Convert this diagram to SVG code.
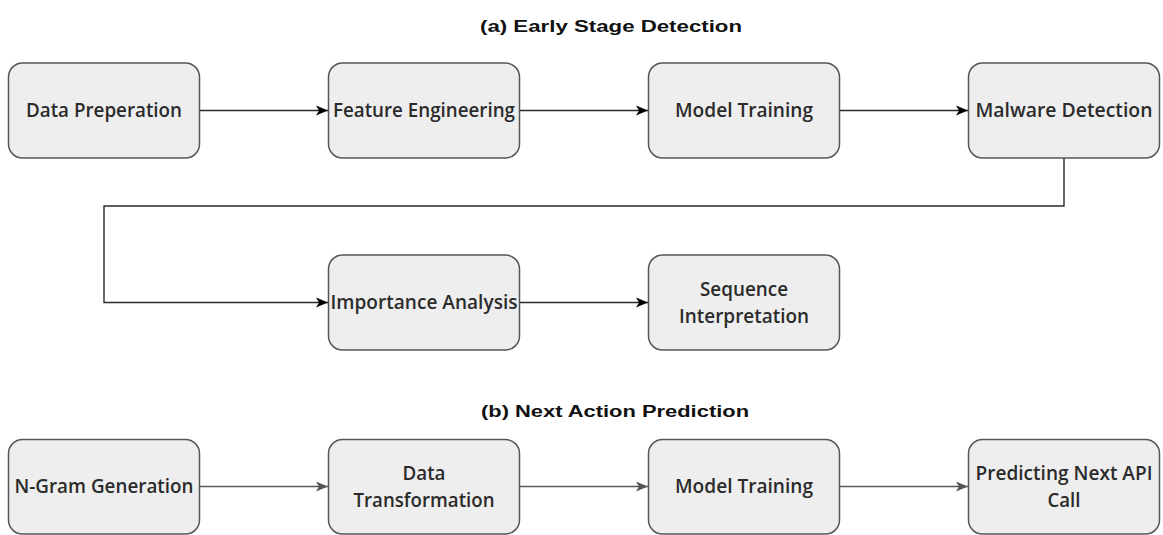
<svg xmlns="http://www.w3.org/2000/svg" width="1163" height="535" viewBox="0 0 1163 535">
  <style>
    .box { fill: #eeeeee; stroke: #555555; stroke-width: 1.5; }
    .lbl { font-family: "Open Sans", "Noto Sans", sans-serif; font-weight: 600; font-size: 19.5px; fill: #2b2b2b; text-anchor: middle; }
    .ttl { font-family: "Liberation Sans", Arial, sans-serif; font-weight: 700; font-size: 16px; fill: #111111; text-anchor: middle; }
    .edge { fill: none; stroke: #2a2a2a; stroke-width: 1.4; }
    .edge2 { fill: none; stroke: #5a5a5a; stroke-width: 1.4; }
  </style>
  <defs>
    <marker id="head" markerUnits="userSpaceOnUse" markerWidth="14" markerHeight="12" viewBox="0 0 14 12" refX="13" refY="6" orient="auto">
      <path d="M1,1 L13,6 L1,11 L4,6 Z" fill="#000000"/>
    </marker>
    <marker id="head2" markerUnits="userSpaceOnUse" markerWidth="14" markerHeight="12" viewBox="0 0 14 12" refX="13" refY="6" orient="auto">
      <path d="M1,1 L13,6 L1,11 L4,6 Z" fill="#555555"/>
    </marker>
  </defs>

  <rect width="1163" height="535" fill="#ffffff"/>

  <!-- section titles -->
  <text class="ttl" x="611" y="32" textLength="262" lengthAdjust="spacingAndGlyphs">(a) Early  Stage Detection</text>
  <text class="ttl" x="615" y="416.5" textLength="268" lengthAdjust="spacingAndGlyphs">(b) Next Action Prediction</text>

  <!-- connectors -->
  <g id="connectors">
    <path class="edge" d="M200,110.5 H328" marker-end="url(#head)"/>
    <path class="edge" d="M520,110.5 H648" marker-end="url(#head)"/>
    <path class="edge" d="M840,110.5 H968" marker-end="url(#head)"/>
    <path class="edge" d="M1064,158 V206 H104 V302.5 H328" marker-end="url(#head)"/>
    <path class="edge" d="M520,302.5 H648" marker-end="url(#head)"/>
    <path class="edge2" d="M200,486.5 H328" marker-end="url(#head2)"/>
    <path class="edge2" d="M520,486.5 H648" marker-end="url(#head2)"/>
    <path class="edge2" d="M840,486.5 H968" marker-end="url(#head2)"/>
  </g>

  <!-- (a) early stage detection -->
  <g id="data-preparation">
    <rect class="box" x="8.5" y="63" width="191" height="95" rx="14"/>
    <text class="lbl" x="104" y="117" textLength="156" lengthAdjust="spacingAndGlyphs">Data Preperation</text>
  </g>
  <g id="feature-engineering">
    <rect class="box" x="328.5" y="63" width="191" height="95" rx="14"/>
    <text class="lbl" x="424" y="117" textLength="182" lengthAdjust="spacingAndGlyphs">Feature Engineering</text>
  </g>
  <g id="model-training-a">
    <rect class="box" x="648.5" y="63" width="191" height="95" rx="14"/>
    <text class="lbl" x="744" y="117" textLength="138" lengthAdjust="spacingAndGlyphs">Model Training</text>
  </g>
  <g id="malware-detection">
    <rect class="box" x="968.5" y="63" width="191" height="95" rx="14"/>
    <text class="lbl" x="1064" y="117" textLength="177" lengthAdjust="spacingAndGlyphs">Malware Detection</text>
  </g>
  <g id="importance-analysis">
    <rect class="box" x="328.5" y="255" width="191" height="95" rx="14"/>
    <text class="lbl" x="424" y="309" textLength="187" lengthAdjust="spacingAndGlyphs">Importance Analysis</text>
  </g>
  <g id="sequence-interpretation">
    <rect class="box" x="648.5" y="255" width="191" height="95" rx="14"/>
    <text class="lbl" x="744" y="296" textLength="88" lengthAdjust="spacingAndGlyphs">Sequence</text>
    <text class="lbl" x="744" y="323" textLength="130" lengthAdjust="spacingAndGlyphs">Interpretation</text>
  </g>

  <!-- (b) next action prediction -->
  <g id="ngram-generation">
    <rect class="box" x="8.5" y="439.5" width="191" height="94.5" rx="14"/>
    <text class="lbl" x="104" y="493" textLength="179" lengthAdjust="spacingAndGlyphs">N-Gram Generation</text>
  </g>
  <g id="data-transformation">
    <rect class="box" x="328.5" y="439.5" width="191" height="94.5" rx="14"/>
    <text class="lbl" x="424" y="480" textLength="43" lengthAdjust="spacingAndGlyphs">Data</text>
    <text class="lbl" x="424" y="507" textLength="141" lengthAdjust="spacingAndGlyphs">Transformation</text>
  </g>
  <g id="model-training-b">
    <rect class="box" x="648.5" y="439.5" width="191" height="94.5" rx="14"/>
    <text class="lbl" x="744" y="493" textLength="138" lengthAdjust="spacingAndGlyphs">Model Training</text>
  </g>
  <g id="next-api-call">
    <rect class="box" x="968.5" y="439.5" width="191" height="94.5" rx="14"/>
    <text class="lbl" x="1064" y="480" textLength="177" lengthAdjust="spacingAndGlyphs">Predicting Next API</text>
    <text class="lbl" x="1064" y="507" textLength="33" lengthAdjust="spacingAndGlyphs">Call</text>
  </g>
</svg>
